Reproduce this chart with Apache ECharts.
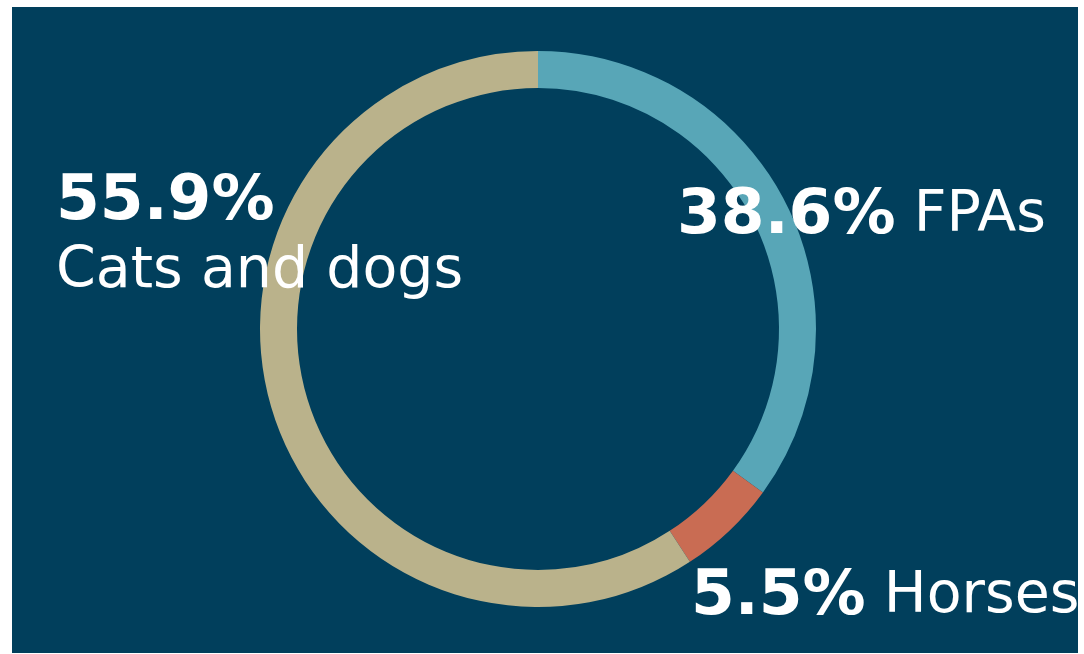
<!DOCTYPE html>
<html><head><meta charset="utf-8">
<script src="https://cdn.jsdelivr.net/npm/echarts@6/dist/echarts.min.js"></script>
<style>html,body{margin:0;padding:0;background:#fff}#c{width:1084px;height:654px}</style>
</head><body><div id="c"></div>
<script>
const categories = ['FPAs', 'Horses', 'Cats and dogs'];
const sliceValues = [35.0, 5.8, 59.2];
// percentages as printed on the labels
const percentLabels = ['38.6%', '5.5%', '55.9%'];
const colors = ['#58a6b7', '#c96c53', '#bab28b'];

const FONT = '"DejaVu Sans",Verdana,sans-serif';
const chart = echarts.init(document.getElementById('c'), null, {renderer: 'canvas'});

const rich = {
  p: {fontFamily: FONT, fontWeight: 'bold', fontSize: 63, fill: '#fff', lineHeight: 70},
  n: {fontFamily: FONT, fontSize: 57, fill: '#fff', lineHeight: 70}
};
function lbl(i, x, y, twoLines) {
  const p = percentLabels[i];
  return {
    type: 'text', left: x, top: y, z: 10,
    style: {
      text: twoLines ? '{p|' + p + '}\n{n|' + categories[i] + '}' : '{p|' + p + '}{n| ' + categories[i] + '}',
      fill: '#fff',
      rich: rich
    }
  };
}

chart.setOption({
  backgroundColor: '#ffffff',
  animation: false,
  graphic: [
    {type: 'rect', shape: {x: 12, y: 7, width: 1066, height: 646}, style: {fill: '#013f5c'}, z: -1},
    lbl(2, 56, 171, true),
    lbl(0, 677, 185, false),
    lbl(1, 691, 566, false)
  ],
  series: [{
    type: 'pie',
    center: [538, 329],
    radius: [241, 278],
    startAngle: 90,
    clockwise: true,
    label: {show: false},
    labelLine: {show: false},
    emphasis: {disabled: true},
    itemStyle: {borderWidth: 0},
    data: categories.map((c, i) => ({name: c, value: sliceValues[i], itemStyle: {color: colors[i]}}))
  }]
});
</script></body></html>
